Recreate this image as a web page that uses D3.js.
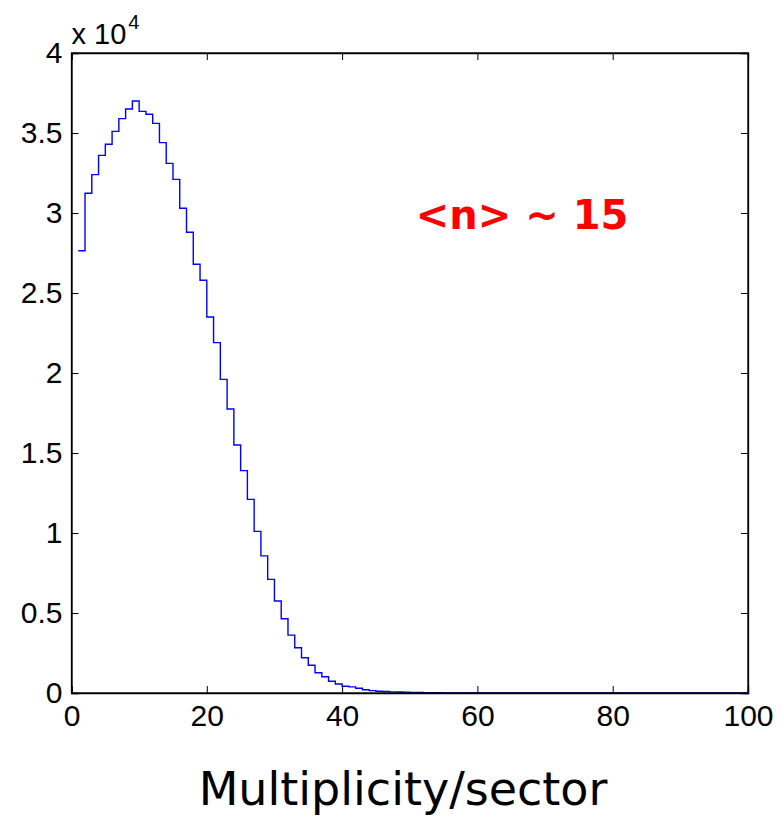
<!DOCTYPE html>
<html>
<head>
<meta charset="utf-8">
<script src="https://cdn.jsdelivr.net/npm/d3@7"></script>
<style>
  body { margin: 0; background: #fff; }
  .tick text { font-family: "Liberation Sans", Arial, sans-serif; font-size: 30px; fill: #000; }
</style>
</head>
<body>
<script>
// bin lower edges 1..99 (unit width), counts
var binStart = d3.range(1, 100);
var counts = [27640, 31230, 32400, 33600, 34300, 35100, 35900, 36500, 37000, 36350,
  36170, 35600, 34400, 33100, 32100, 30300, 28800, 26800, 25800, 23500,
  21900, 19600, 17750, 15500, 13900, 12100, 10100, 8570, 7100, 5750,
  4640, 3620, 2830, 2200, 1730, 1270, 1020, 730, 560, 420,
  380, 300, 200, 150, 110, 90, 70, 60, 50, 40,
  30, 25, 20, 15, 10, 8, 6, 5, 4, 3,
  2, 2, 1, 1, 1, 1, 0, 0, 0, 0,
  0, 0, 0, 0, 0, 0, 0, 0, 0, 0,
  0, 0, 0, 0, 0, 0, 0, 0, 0, 0,
  0, 0, 0, 0, 0, 0, 0, 0, 0];
var xTicks = [0, 20, 40, 60, 80, 100];
var yTicks = [0, 0.5, 1, 1.5, 2, 2.5, 3, 3.5, 4];
var xLabel = "Multiplicity/sector";
var note = "<n> ~ 15";

var W = 783, H = 816;
var margin = {top: 53, right: 35, bottom: 123, left: 71.5};
var width = W - margin.left - margin.right,
    height = H - margin.top - margin.bottom;

var svg = d3.select("body").append("svg")
    .attr("width", W)
    .attr("height", H);

var g = svg.append("g")
    .attr("transform", "translate(" + margin.left + "," + margin.top + ")");

var x = d3.scaleLinear().domain([0, 100]).range([0, width]);
var y = d3.scaleLinear().domain([0, 4]).range([height, 0]);

// stairs line
var pts = binStart.map(function(b, i) { return [b, counts[i] / 1e4]; });
pts.push([100, counts[counts.length - 1] / 1e4]);

var line = d3.line()
    .x(function(d) { return x(d[0]); })
    .y(function(d) { return y(d[1]); })
    .curve(d3.curveStepAfter);

g.append("path")
    .datum(pts)
    .attr("fill", "none")
    .attr("stroke", "#0000ff")
    .attr("stroke-width", 1.4)
    .attr("d", line);

// axes, ticks pointing inward like matlab
var tl = 7;
var xAxis = d3.axisBottom(x).tickValues(xTicks).tickSize(-tl).tickPadding(tl + 5);
var yAxis = d3.axisLeft(y).tickValues(yTicks).tickSize(-tl).tickPadding(tl + 2)
    .tickFormat(function(d) { return d; });

g.append("g")
    .attr("transform", "translate(0," + height + ")")
    .call(xAxis);
g.append("g").call(yAxis);

g.append("g")
    .call(d3.axisTop(x).tickValues(xTicks).tickSize(-tl).tickFormat(""));
g.append("g")
    .attr("transform", "translate(" + width + ",0)")
    .call(d3.axisRight(y).tickValues(yTicks).tickSize(-tl).tickFormat(""));

g.selectAll(".domain").attr("stroke", "#000").attr("stroke-width", 1.3);
g.selectAll(".tick line").attr("stroke", "#000").attr("stroke-width", 1);

g.append("rect")
    .attr("width", width).attr("height", height)
    .attr("fill", "none").attr("stroke", "#000").attr("stroke-width", 1.3);

// exponent
var ex = g.append("text")
    .attr("x", 0).attr("y", -9)
    .style("font-family", "Liberation Sans, Arial, sans-serif")
    .style("font-size", "29px");
ex.append("tspan").text("x 10");
ex.append("tspan").attr("dy", -15).attr("dx", 2).style("font-size", "20px").text("4");

// annotation
g.append("text")
    .attr("x", x(50.9)).attr("y", y(2.9))
    .style("font-family", "DejaVu Sans, sans-serif")
    .style("font-weight", "bold")
    .style("font-size", "40px")
    .attr("fill", "#ff0000")
    .text(note);

// x label
svg.append("text")
    .attr("x", 403).attr("y", 805)
    .attr("text-anchor", "middle")
    .style("font-family", "DejaVu Sans, sans-serif")
    .style("font-size", "46px")
    .attr("fill", "#000")
    .text(xLabel);
</script>
</body>
</html>
